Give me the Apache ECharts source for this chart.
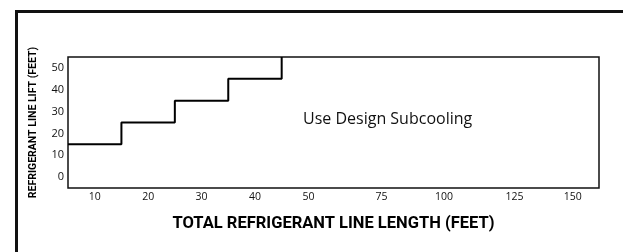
<!DOCTYPE html>
<html>
<head>
<meta charset="utf-8">
<script src="https://cdn.jsdelivr.net/npm/echarts@6/dist/echarts.min.js"></script>
<style>
  html, body { margin: 0; padding: 0; background: #fff; }
  #chart { width: 623px; height: 252px; }
</style>
</head>
<body>
<div id="chart"></div>
<script>
// step boundary: line length (feet) where the max lift changes
let lengthBreaks = [5, 15, 25, 35, 45];
let liftLimits = [15, 25, 35, 45, 55];

// tick labels along the bottom (the drawing is not to scale past 50 ft)
let xTickText = ['10', '20', '30', '40', '50', '75', '100', '125', '150'];
let xTickAt = [10, 20, 30, 40, 50, 63.7, 75.4, 88.6, 99.5];
let yTicks = [0, 10, 20, 30, 40, 50];

let regionNote = 'Use Design Subcooling';
let xTitle = 'TOTAL REFRIGERANT LINE LENGTH (FEET)';
let yTitle = 'REFRIGERANT LINE LIFT (FEET)';

let stepData = lengthBreaks.map((x, i) => [x, liftLimits[i]]);

let chart = echarts.init(document.getElementById('chart'));
chart.setOption({
  animation: false,
  backgroundColor: '#fff',
  textStyle: { fontFamily: 'Open Sans' },
  grid: {
    left: 68, right: 24, top: 57, bottom: 64,
    show: true, borderColor: '#111', borderWidth: 1.5, backgroundColor: '#fff'
  },
  xAxis: {
    type: 'value', min: 5, max: 104.4,
    name: xTitle, nameLocation: 'middle', nameGap: 27,
    nameTextStyle: { fontFamily: 'Roboto', fontWeight: 'bold', fontSize: 16.5, color: '#000' },
    axisLine: { show: false },
    axisTick: { show: false },
    splitLine: { show: false },
    axisLabel: {
      customValues: xTickAt,
      margin: 4, fontSize: 10.5, color: '#111',
      formatter: v => xTickText[xTickAt.indexOf(v)]
    }
  },
  yAxis: {
    type: 'value', min: -5, max: 55,
    name: yTitle, nameLocation: 'middle', nameGap: 29,
    nameTextStyle: { fontFamily: 'Roboto', fontWeight: 'bold', fontSize: 10.5, color: '#000' },
    axisLine: { show: false },
    axisTick: { show: false },
    splitLine: { show: false },
    axisLabel: { customValues: yTicks, margin: 4, fontSize: 11, color: '#111' }
  },
  graphic: [
    { type: 'rect', left: 14, top: 9, shape: { width: 610, height: 260 },
      style: { fill: 'none', stroke: '#111', lineWidth: 3 }, silent: true },
    { type: 'text', left: 303, top: 111,
      style: { text: regionNote, font: '16px "Open Sans"', fill: '#111' } }
  ],
  series: [{
    type: 'line',
    step: 'end',
    data: stepData,
    symbol: 'none',
    lineStyle: { color: '#000', width: 2 }
  }]
});
</script>
</body>
</html>
